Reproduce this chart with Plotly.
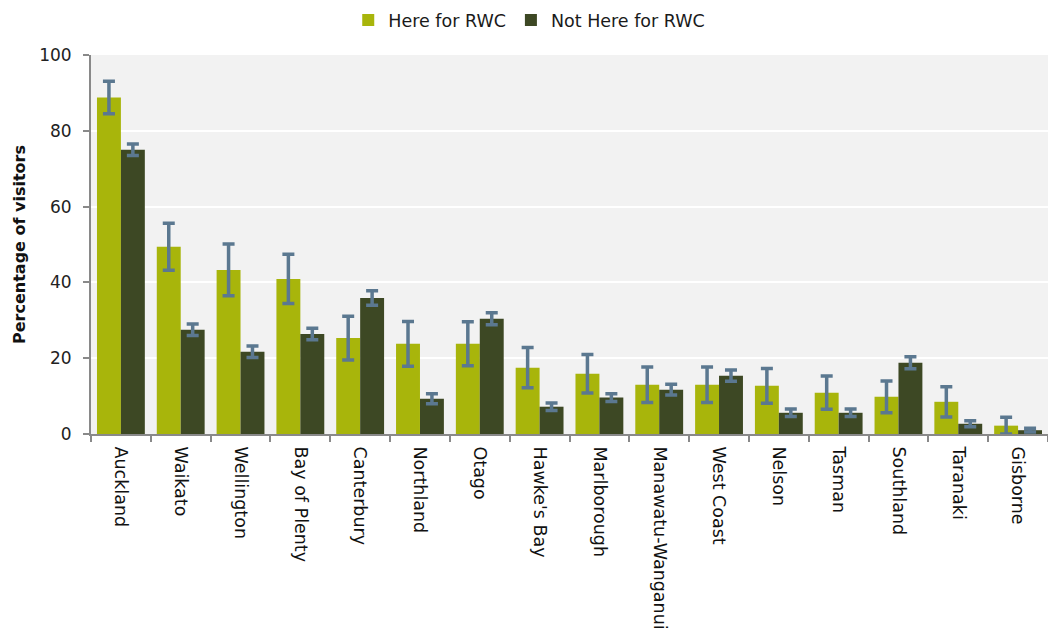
import plotly.graph_objects as go

regions = ["Auckland", "Waikato", "Wellington", "Bay of Plenty", "Canterbury",
           "Northland", "Otago", "Hawke's Bay", "Marlborough", "Manawatu-Wanganui",
           "West Coast", "Nelson", "Tasman", "Southland", "Taranaki", "Gisborne"]

here_rwc = [88.8, 49.4, 43.3, 40.9, 25.3, 23.8, 23.8, 17.5, 15.9, 13.0,
            13.0, 12.7, 10.9, 9.8, 8.5, 2.2]
here_err = [4.3, 6.2, 6.8, 6.5, 5.8, 5.9, 5.8, 5.3, 5.1, 4.7,
            4.7, 4.6, 4.4, 4.2, 4.0, 2.2]

not_here_rwc = [75.0, 27.5, 21.7, 26.4, 35.9, 9.3, 30.4, 7.2, 9.6, 11.7,
                15.4, 5.6, 5.6, 18.8, 2.7, 1.0]
not_here_err = [1.5, 1.5, 1.5, 1.5, 1.9, 1.3, 1.6, 1.0, 1.0, 1.4,
                1.5, 1.0, 1.0, 1.6, 0.8, 0.5]

y_ticks = [0, 20, 40, 60, 80, 100]

FONT = "DejaVu Sans, Verdana, sans-serif"
ERR_COLOR = "#5b7890"

fig = go.Figure()
fig.add_trace(go.Bar(
    name="Here for RWC", x=regions, y=here_rwc,
    marker=dict(color="#a8b50b", line=dict(width=0)),
    error_y=dict(type="data", array=here_err, visible=True,
                 color=ERR_COLOR, thickness=3.5, width=6),
))
fig.add_trace(go.Bar(
    name="Not Here for RWC", x=regions, y=not_here_rwc,
    marker=dict(color="#3d4824", line=dict(width=0)),
    error_y=dict(type="data", array=not_here_err, visible=True,
                 color=ERR_COLOR, thickness=3.5, width=6),
))

fig.update_layout(
    width=1048, height=635,
    margin=dict(l=91, r=0, t=55, b=201),
    paper_bgcolor="white",
    plot_bgcolor="#f2f2f2",
    barmode="group",
    bargap=0.2,
    bargroupgap=0,
    font=dict(family=FONT, size=16, color="#1a1a1a"),
    legend=dict(
        orientation="h",
        xref="container", yref="container",
        x=0.505, xanchor="center",
        y=1 - 20 / 635, yanchor="middle",
        font=dict(size=17.5, color="#1a1a1a"),
        itemsizing="constant",
        traceorder="normal",
    ),
    showlegend=True,
)

fig.update_xaxes(
    type="category",
    tickangle=90,
    showline=True, linecolor="#898989", linewidth=2,
    ticks="outside", tickson="boundaries", ticklen=6, tickcolor="#898989", tickwidth=2,
    ticklabelstandoff=7,
    showgrid=False,
    tickfont=dict(size=17.5, color="#111111"),
    range=[-0.5, len(regions) - 0.5],
)
fig.update_yaxes(
    range=[0, 100],
    tickvals=y_ticks,
    showline=True, linecolor="#898989", linewidth=2,
    ticks="outside", ticklen=6, tickcolor="#898989", tickwidth=2,
    ticklabelstandoff=8,
    showgrid=True, gridcolor="white", gridwidth=2,
    zeroline=False,
    tickfont=dict(size=17, color="#222222"),
    title=dict(text="<b>Percentage of visitors</b>", font=dict(size=16, color="#111111"), standoff=10),
)

fig.write_html("out.html")
